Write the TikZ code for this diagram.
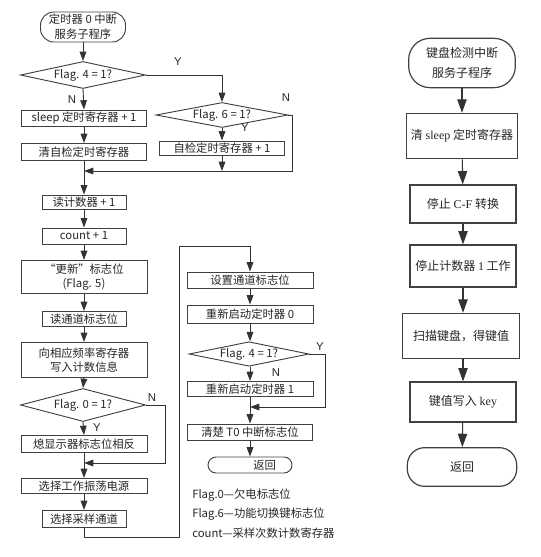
\documentclass[tikz,border=0pt]{standalone}
\usepackage{fontspec}
\setmainfont{Noto Sans CJK SC}
\newfontfamily\lat{Liberation Sans}
\newfontfamily\serif{Liberation Serif}
\usetikzlibrary{arrows.meta,shapes.geometric}
\begin{document}
\begin{tikzpicture}[x=0.75pt,y=-0.75pt,
  line/.style={draw=black!80, line width=0.7pt},
  arr/.style={line, -{Triangle[width=5pt,length=7pt]}},
  rarr/.style={draw=black!80, line width=0.8pt, -{Triangle[width=7pt,length=10pt]}},
  box/.style={draw=black!75, line width=0.7pt, inner sep=0.5pt, align=center,
    text=black!85, font=\fontsize{8.5}{11}\selectfont},
  term/.style={box, rounded corners=10pt},
  dia/.style={box, diamond, aspect=4.6, inner sep=0pt},
  lbl/.style={font=\lat\fontsize{8.5}{10}\selectfont, text=black!85, inner sep=0pt},
  rbox/.style={draw=black!75, line width=0.9pt, inner sep=1pt, align=center,
    text=black!85, font=\fontsize{9}{15}\selectfont},
  rterm/.style={rbox, rounded corners=16pt},
  legend/.style={anchor=west, inner sep=0pt, text=black!85, font=\fontsize{8.5}{10}\selectfont}
]
\useasboundingbox (0,0) rectangle (540,557);

% ---------- left column ----------
\node[term, minimum width=63.75pt, minimum height=22.5pt] (s0) at (83,27) {定时器 0 中断\\服务子程序};
\node[dia, minimum width=93.75pt, minimum height=20.25pt] (d1) at (83,75) {Flag. 4 = 1?};
\node[dia, minimum width=99pt, minimum height=18.75pt] (d2) at (222,115) {Flag. 6 = 1?};
\node[box, minimum width=93.75pt, minimum height=10.5pt] (bself) at (222,148) {自检定时寄存器 + 1};
\node[box, minimum width=93.75pt, minimum height=12pt] (bsleep) at (84,118) {sleep 定时寄存器 + 1};
\node[box, minimum width=93.75pt, minimum height=12.75pt] (bclr) at (84,152) {清自检定时寄存器};
\coordinate (j1) at (84,171);
\coordinate (c1) at (292,171);
\node[box, minimum width=63pt, minimum height=10.5pt] (bread) at (84,202) {读计数器 + 1};
\node[box, minimum width=63pt, minimum height=12pt] (bcount) at (84,236) {count + 1};
\node[box, minimum width=94.5pt, minimum height=24.75pt] (bupd) at (84,277) {“更新”标志位\\(Flag. 5)};
\node[box, minimum width=63pt, minimum height=11.25pt] (brch) at (84,319) {读通道标志位};
\node[box, minimum width=94.5pt, minimum height=26.25pt] (bwr) at (84,360) {向相应频率寄存器\\写入计数信息};
\node[dia, minimum width=93.75pt, minimum height=24.75pt] (d3) at (83,405) {Flag. 0 = 1?};
\node[box, minimum width=94.5pt, minimum height=12.75pt] (binv) at (84,444) {熄显示器标志位相反};
\coordinate (j2) at (84,463);
\coordinate (c2) at (165,463);
\node[box, minimum width=94.5pt, minimum height=11.25pt] (bosc) at (84,486) {选择工作振荡电源};
\node[box, minimum width=63pt, minimum height=12.75pt] (bsmp) at (84,519) {选择采样通道};
\coordinate (c3) at (179,537);
\coordinate (c4) at (250,246);

% ---------- middle column ----------
\node[box, minimum width=94.5pt, minimum height=12pt] (bset) at (250,280) {设置通道标志位};
\node[box, minimum width=94.5pt, minimum height=13.5pt] (brst0) at (250,314) {重新启动定时器 0};
\node[dia, minimum width=90pt, minimum height=18pt] (d4) at (249,354) {Flag. 4 = 1?};
\node[box, minimum width=94.5pt, minimum height=11.25pt] (brst1) at (250,389) {重新启动定时器 1};
\coordinate (j3) at (250,407);
\coordinate (c5) at (325,407);
\node[box, minimum width=93.75pt, minimum height=12pt] (bclrt) at (250,432) {清楚 T0 中断标志位};
\node[term, minimum width=63pt, minimum height=12pt, rounded corners=6pt] (ret1) at (250,465) {\hspace*{22pt}返回};

\node[legend] (lg1) at (192,495) {Flag.0—欠电标志位};
\node[legend] (lg2) at (192,514) {Flag.6—功能切换键标志位};
\node[legend] (lg3) at (192,533) {count—采样次数计数寄存器};

% ---------- right column ----------
\node[rterm, minimum width=80pt, minimum height=37pt] (r0) at (462,63) {键盘检测中断\\服务子程序};
\node[rbox, minimum width=83pt, minimum height=34pt] (r1) at (462,136) {清 {\serif sleep} 定时寄存器};
\node[rbox, minimum width=79.5pt, minimum height=28.5pt] (r2) at (463,204) {停止 {\serif C-F} 转换};
\node[rbox, minimum width=79.5pt, minimum height=31.5pt] (r3) at (463,266) {停止计数器 {\serif 1} 工作};
\node[rbox, minimum width=88pt, minimum height=34pt] (r4) at (461,336) {扫描键盘，得键值};
\node[rbox, minimum width=79.5pt, minimum height=30pt] (r5) at (463,402) {键值写入 {\serif key}};
\node[rterm, minimum width=82pt, minimum height=29pt, rounded corners=13pt] (r6) at (462,467) {返回};

% ---------- labels ----------
\node[lbl] (ly1) at (178,62) {Y};
\node[lbl] (ln1) at (72,100) {N};
\node[lbl] (ln2) at (286,98) {N};
\node[lbl] (ly2) at (245,128) {Y};
\node[lbl] (ln3) at (152,398) {N};
\node[lbl] (ly3) at (97,428) {Y};
\node[lbl] (ly4) at (320,347) {Y};
\node[lbl] (ln4) at (276,373) {N};

% ---------- connectors (left) ----------
\draw[arr] (s0) -- (d1);
\draw[arr] (d1.east) -| (d2.north);
\draw[arr] (d1.south) -- (bsleep.north);
\draw[arr] (bsleep) -- (bclr);
\draw[arr] (d2.south) -- (bself.north);
\draw[arr] (bself.south) -- (bself.south |- j1);
\draw[arr] (d2.east) -- (d2.east -| c1) -- (c1) -- (j1);
\draw[arr] (bclr.south) -- (bread.north);
\draw[arr] (bread) -- (bcount);
\draw[arr] (bcount) -- (bupd);
\draw[arr] (bupd) -- (brch);
\draw[arr] (brch) -- (bwr);
\draw[arr] (bwr.south) -- (d3.north);
\draw[arr] (d3.south) -- (binv.north);
\draw[arr] (d3.east) -- (d3.east -| c2) -- (c2) -- (j2);
\draw[arr] (binv.south) -- (bosc.north);
\draw[arr] (bosc) -- (bsmp);
\draw[arr] (bsmp.south) -- (bsmp.south |- c3) -- (c3) -- (c3 |- c4) -- (c4) -- (bset.north);

% ---------- connectors (middle) ----------
\draw[arr] (bset) -- (brst0);
\draw[arr] (brst0.south) -- (d4.north -| brst0.south);
\draw[arr] (d4.south -| brst1.north) -- (brst1.north);
\draw[arr] (d4.east) -- (d4.east -| c5) -- (c5) -- (j3);
\draw[arr] (brst1.south) -- (bclrt.north);
\draw[arr] (bclrt) -- (ret1);

% ---------- connectors (right) ----------
\draw[rarr] (r0) -- (r1);
\draw[rarr] (r1) -- (r2);
\draw[rarr] (r2) -- (r3);
\draw[rarr] (r3.south) -- (r4.north -| r3.south);
\draw[rarr] (r4.south -| r5.north) -- (r5.north);
\draw[rarr] (r5) -- (r6);
\end{tikzpicture}
\end{document}
